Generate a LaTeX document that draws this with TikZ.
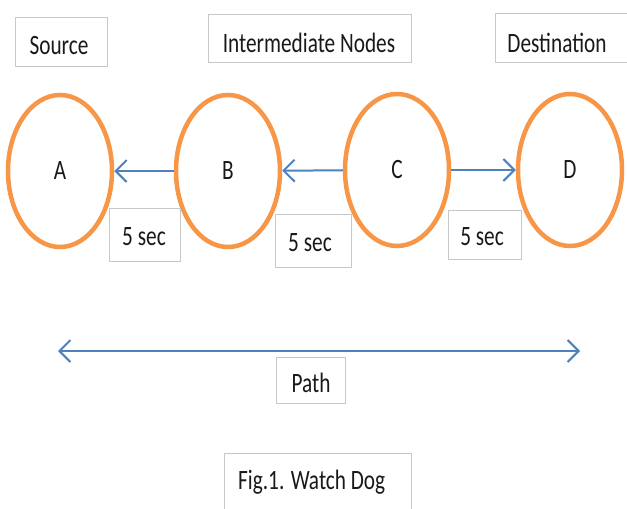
\documentclass[tikz,border=0pt]{standalone}
\usepackage{fontspec}
\setmainfont[FakeStretch=0.76]{Carlito}
\usetikzlibrary{shapes.geometric,arrows.meta}
\definecolor{ringorange}{HTML}{F79646}
\definecolor{linkblue}{RGB}{79,129,189}
\definecolor{boxgray}{RGB}{200,200,200}
\tikzset{
  lbl/.style={font=\fontsize{28}{30}\selectfont, text=black!90, inner sep=0pt},
  tbox/.style={draw=boxgray, line width=1pt, fill=white, inner sep=0pt,
    font=\fontsize{28}{30}\selectfont, text=black!90},
  station/.style={ellipse, draw=ringorange, line width=4.5pt, inner sep=0pt,
    minimum width=104pt, minimum height=152pt, lbl},
  link/.style={draw=linkblue, line width=2pt,
    -{Straight Barb[length=11pt,width=22pt]}},
  span/.style={draw=linkblue, line width=2pt,
    {Straight Barb[length=11pt,width=22pt]}-{Straight Barb[length=11pt,width=22pt]}}
}
\begin{document}
\begin{tikzpicture}[x=1pt,y=-1pt]
\useasboundingbox (0,0) rectangle (627,509);
\clip (0,0) rectangle (627,509);

% role captions
\node[tbox, minimum width=92pt, minimum height=49pt] (srcbox) at (61,41.5) {};
\node[lbl] (src) at (59,46) {Source};
\node[tbox, minimum width=203pt, minimum height=48pt] (midbox) at (309.5,38) {};
\node[lbl] (mid) at (309,43) {Intermediate Nodes};
\node[tbox, minimum width=145pt, minimum height=49pt] (dstbox) at (567.5,37.5) {};
\node[lbl] (dst) at (557,43) {Destination};

% stations
\node[station] (A) at (60,171) {A};
\node[station] (B) at (228,171) {B};
\node[station] (C) at (397,170) {C};
\node[station] (D) at (570,170) {D};

% hops
\draw[link] (B) -- (A);
\draw[link] (C) -- (B);
\draw[link] (C) -- (D);

% hop timings
\node[tbox, minimum width=71pt, minimum height=53pt] (t1box) at (144.5,234.5) {};
\node[lbl] (t1) at (144,237) {5 sec};
\node[tbox, minimum width=76pt, minimum height=53pt] (t2box) at (313,240.5) {};
\node[lbl] (t2) at (310,243) {5 sec};
\node[tbox, minimum width=73pt, minimum height=49pt] (t3box) at (484.5,234.5) {};
\node[lbl] (t3) at (482,237) {5 sec};

% overall path
\coordinate (pl) at (58,351);
\coordinate (pr) at (580,351);
\draw[span] (pl) -- (pr);
\node[tbox, minimum width=69pt, minimum height=46pt] (pathbox) at (310.5,380) {};
\node[lbl] (path) at (311,383) {Path};

% caption
\node[tbox, minimum width=187pt, minimum height=70pt] (figbox) at (317.5,488) {};
\node[lbl, anchor=west] (fig) at (238,482) {Fig.1. Watch Dog};
\end{tikzpicture}
\end{document}
